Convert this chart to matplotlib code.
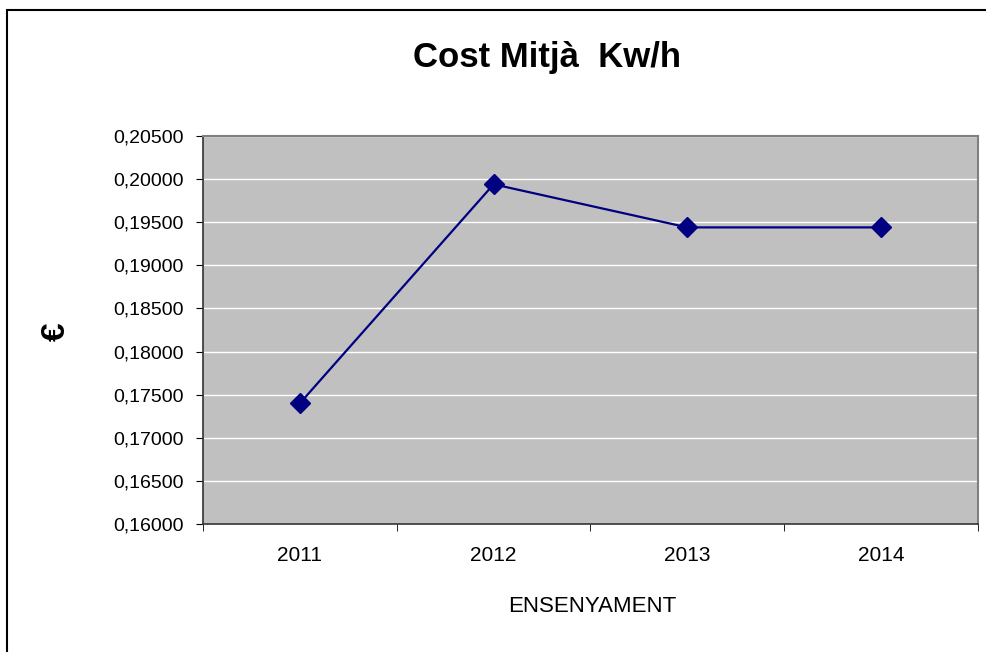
import matplotlib
matplotlib.use("Agg")
import matplotlib.pyplot as plt
from matplotlib.patches import Rectangle
from matplotlib.ticker import FuncFormatter, FixedLocator
import numpy as np

plt.rcParams['font.family'] = ['Liberation Sans', 'DejaVu Sans']

# data
years = ["2011", "2012", "2013", "2014"]
cost = [0.1740, 0.1994, 0.1944, 0.1944]
y_ticks = [0.160, 0.165, 0.170, 0.175, 0.180, 0.185, 0.190, 0.195, 0.200, 0.205]

fig = plt.figure(figsize=(9.87, 6.52), dpi=100)
ax = fig.add_axes([203/987, 128/652, 775/987, 388/652])

x = np.arange(len(years))
ax.set_facecolor("#C0C0C0")
ax.plot(x, cost, color="#000080", lw=1.6, marker="D", ms=10,
        mfc="#000080", mec="#000080", zorder=3)

ax.set_xlim(-0.5, len(years) - 0.5)
ax.set_ylim(y_ticks[0], y_ticks[-1])
ax.set_yticks(y_ticks)
ax.yaxis.set_major_formatter(FuncFormatter(lambda v, p: f"{v:.5f}".replace(".", ",")))
ax.grid(axis="y", color="white", lw=1)
ax.set_axisbelow(True)

# categories labelled at centres, ticks between them
ax.set_xticks(x)
ax.set_xticklabels(years)
ax.xaxis.set_minor_locator(FixedLocator(np.arange(-0.5, len(years), 1.0)))
ax.tick_params(axis="x", which="major", length=0, pad=16, labelsize=15)
ax.tick_params(axis="x", which="minor", length=5, direction="out", color="black")
ax.tick_params(axis="y", length=5, direction="out", pad=9, labelsize=14)

for s in ["top", "right"]:
    ax.spines[s].set_color("#808080")
    ax.spines[s].set_linewidth(1.5)
for s in ["left", "bottom"]:
    ax.spines[s].set_color("#333333")
    ax.spines[s].set_linewidth(1.2)

ax.set_xlabel("ENSENYAMENT", fontsize=16)
ax.xaxis.set_label_coords((592 - 203) / 775, -(606 - 524) / 388)
ax.xaxis.label.set_va("center")
fig.text(56/987, 1 - 332/652, "€", fontsize=24, fontweight="bold",
         rotation=90, ha="center", va="center")
fig.text(547/987, 1 - 58/652, "Cost Mitjà  Kw/h", fontsize=25,
         fontweight="bold", ha="center", va="center")

# chart frame
fig.patches.append(Rectangle((7/987, -0.1), 1.1, 1 - 10/652 + 0.1,
                             transform=fig.transFigure, fill=False,
                             ec="black", lw=1.5))

fig.savefig("out.png", dpi=100)
